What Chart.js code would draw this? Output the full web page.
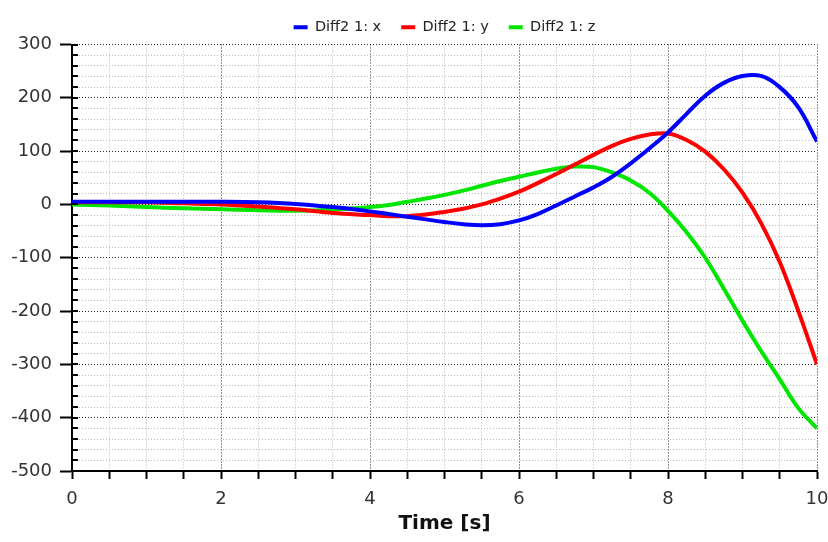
<!DOCTYPE html>
<html>
<head>
<meta charset="utf-8">
<script src="https://cdn.jsdelivr.net/npm/chart.js@4"></script>
<style>
  html, body { margin: 0; padding: 0; background: #fff; }
  #wrap { width: 828px; height: 542px; }
</style>
</head>
<body>
<div id="wrap"><canvas id="plot" width="828" height="542"></canvas></div>
<script>
"use strict";

// DATA -----------------------
const times = [0, 0.5, 1, 1.5, 2, 2.5, 3, 3.5, 4,
  4.25, 4.5, 4.75, 5, 5.25, 5.5, 5.75, 6, 6.25, 6.5, 6.75, 7,
  7.25, 7.5, 7.75, 8, 8.25, 8.5, 8.75, 9, 9.25, 9.5, 9.75, 10];

const diffX = [5, 5, 5, 5, 5, 4, 1, -5, -13,
  -18, -23, -28, -33, -37, -39, -37, -30, -18, -2, 15, 32,
  52, 77, 105, 135, 170, 204, 228, 241, 241, 220, 182, 118];
const diffY = [4, 4, 4, 2, 0, -4, -9, -16, -20,
  -22, -22, -19, -14, -8, 0, 11, 24, 40, 57, 75, 93,
  110, 123, 131, 133, 121, 99, 66, 22, -35, -108, -200, -300];
const diffZ = [0, -2, -5, -7, -9, -11, -12, -10, -5,
  -1, 5, 11, 18, 26, 35, 44, 52, 60, 67, 71, 70,
  60, 45, 22, -12, -52, -100, -158, -218, -275, -328, -382, -420];

const seriesNames = ["Diff2 1: x", "Diff2 1: y", "Diff2 1: z"];
const seriesColors = ['#0000ff', '#ff0000', '#00e600'];

const yMin = -500, yMax = 300;
const xMin = 0, xMax = 10;

// HELPERS -----------------------
function toPoints(ys){
  return times.map(function(t, i){ return {x: t, y: ys[i]}; });
}

function makeSet(name, ys, color){
  return {
    label: name,
    data: toPoints(ys),
    borderColor: color,
    backgroundColor: color,
    borderWidth: 4,
    pointRadius: 0,
    tension: 0.4,
    fill: false
  };
}

// small tick marks drawn inside the plot on the y axis
const innerTicks = {
  id: 'innerTicks',
  afterDraw(chart){
    const ctx = chart.ctx;
    const y = chart.scales.y;
    const area = chart.chartArea;
    ctx.save();
    ctx.strokeStyle = '#000';
    ctx.lineWidth = 2;
    y.ticks.forEach(function(t){
      const py = Math.round(y.getPixelForValue(t.value));
      ctx.beginPath();
      ctx.moveTo(area.left, py);
      ctx.lineTo(area.left + 6, py);
      ctx.stroke();
    });
    ctx.restore();
  }
};

// CHART -----------------------
const ctx = document.getElementById('plot').getContext('2d');

new Chart(ctx, {
  type: 'line',
  data: {
    datasets: [
      makeSet(seriesNames[0], diffX, seriesColors[0]),
      makeSet(seriesNames[1], diffY, seriesColors[1]),
      makeSet(seriesNames[2], diffZ, seriesColors[2])
    ]
  },
  options: {
    responsive: false,
    animation: false,
    layout: { padding: { left: 0, right: 0, top: 0, bottom: 0 } },
    plugins: {
      legend: {
        position: 'top',
        fullSize: false,
        labels: {
          usePointStyle: true,
          pointStyle: 'line',
          pointStyleWidth: 14,
          padding: 20,
          color: '#222',
          font: { family: 'DejaVu Sans', size: 14.5 }
        }
      },
      tooltip: { enabled: false }
    },
    scales: {
      x: {
        type: 'linear',
        min: xMin,
        max: xMax,
        afterFit: function(scale){
          scale.paddingRight = 11;
          scale.height = 71;
        },
        ticks: {
          stepSize: 0.5,
          autoSkip: false,
          maxRotation: 0,
          color: '#333',
          padding: 10,
          font: { family: 'DejaVu Sans', size: 18 },
          callback: function(v){ return (v % 2 === 0) ? String(v) : ''; }
        },
        grid: {
          color: function(c){
            return (c.tick && c.tick.value % 2 === 0) ? '#222' : '#bbb';
          },
          lineWidth: 1,
          tickColor: '#000',
          tickLength: 8,
          tickWidth: 2
        },
        border: { display: true, color: '#000', width: 2, dash: [1, 2] },
        title: {
          display: true,
          text: 'Time [s]',
          color: '#111',
          padding: { top: 3, bottom: 8 },
          font: { family: 'DejaVu Sans', size: 20, weight: 'bold', lineHeight: 1 }
        }
      },
      y: {
        min: yMin,
        max: yMax,
        afterFit: function(scale){
          scale.width = 72;
          scale.paddingTop = 40;
        },
        ticks: {
          stepSize: 20,
          autoSkip: false,
          color: '#333',
          padding: 8,
          font: { family: 'DejaVu Sans', size: 18 },
          callback: function(v){ return (v % 100 === 0) ? String(v) : ''; }
        },
        grid: {
          color: function(c){
            return (c.tick && c.tick.value % 100 === 0) ? '#222' : '#bbb';
          },
          lineWidth: 1,
          tickColor: function(c){
            return (c.tick && c.tick.value % 100 === 0) ? '#000' : 'rgba(0,0,0,0)';
          },
          tickLength: 12,
          tickWidth: 2
        },
        border: { display: true, color: '#000', width: 2, dash: [1, 2] }
      }
    }
  },
  plugins: [innerTicks]
});
</script>
</body>
</html>
